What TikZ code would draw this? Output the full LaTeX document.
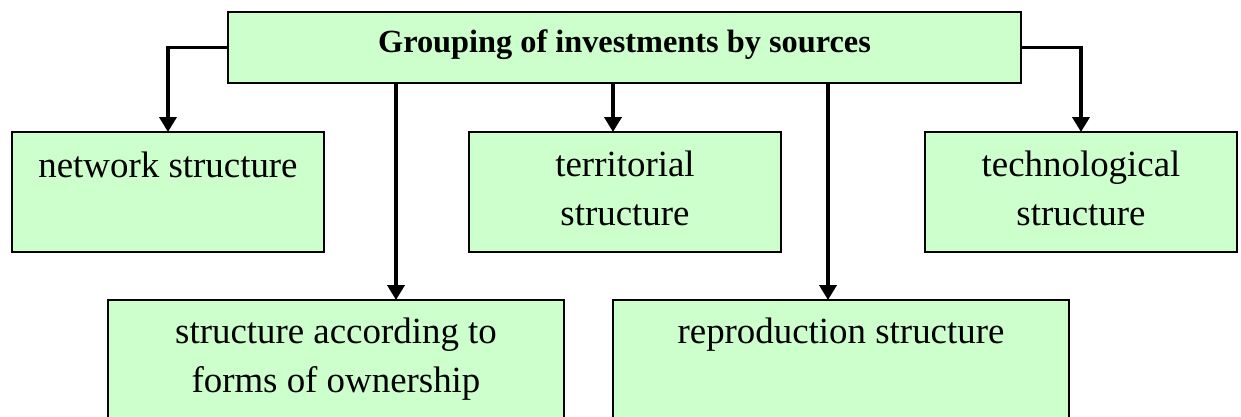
\documentclass[tikz,border=0pt]{standalone}
\usepackage{fontspec}
\setmainfont{Liberation Serif}
\usetikzlibrary{arrows.meta}
\definecolor{boxgreen}{HTML}{CCFFCC}
\tikzset{
  boxnode/.style={draw=black, line width=1pt, fill=boxgreen, inner sep=0pt, outer sep=0pt, anchor=north west},
  txt/.style={inner sep=0pt, outer sep=0pt, anchor=north, align=center, font=\fontsize{21}{27.9}\selectfont},
  ttl/.style={inner sep=0pt, outer sep=0pt, anchor=north, align=center, font=\fontsize{18.4}{22}\selectfont\bfseries},
  arr/.style={line width=2.2pt, -{Triangle[length=0.3cm, width=0.34cm]}}
}
\newcommand{\fstrut}{\rule{0pt}{20pt}}
\newcommand{\tstrut}{\rule{0pt}{16pt}}
\begin{document}
\begin{tikzpicture}[x=0.02cm, y=-0.02cm]
\useasboundingbox (0,0) rectangle (1241,416);
\clip (0,0) rectangle (1241,416);
% boxes
\node[boxnode, minimum width=15.86cm, minimum height=1.42cm] (top) at (228,12) {};
\node[boxnode, minimum width=6.24cm, minimum height=2.4cm] (net) at (12,132) {};
\node[boxnode, minimum width=6.24cm, minimum height=2.4cm] (terr) at (469,132) {};
\node[boxnode, minimum width=6.24cm, minimum height=2.4cm] (tech) at (925,132) {};
\node[boxnode, minimum width=9.12cm, minimum height=2.9cm] (own) at (108,300) {};
\node[boxnode, minimum width=9.12cm, minimum height=2.9cm] (repr) at (613,300) {};
% texts
\node[ttl] (ttop) at (624.5,24.5) {\tstrut Grouping of investments by sources};
\node[txt] (tnet) at (168,141.9) {\fstrut network structure};
\node[txt] (tterr) at (625,140.9) {\fstrut territorial\\structure};
\node[txt] (ttech) at (1081,140.9) {\fstrut technological\\structure};
\node[txt] (town) at (336,307.9) {\fstrut structure according to\\forms of ownership};
\node[txt] (trepr) at (841,307.9) {\fstrut reproduction structure};
% connectors
\draw[arr] (top.west) -| (net.north);
\draw[arr] (top.east) -| (tech.north);
\draw[arr] (top.south -| 613,0) -- (terr.north -| 613,0);
\draw[arr] (top.south -| 396,0) -- (own.north -| 396,0);
\draw[arr] (top.south -| 828,0) -- (repr.north -| 828,0);
\end{tikzpicture}
\end{document}
